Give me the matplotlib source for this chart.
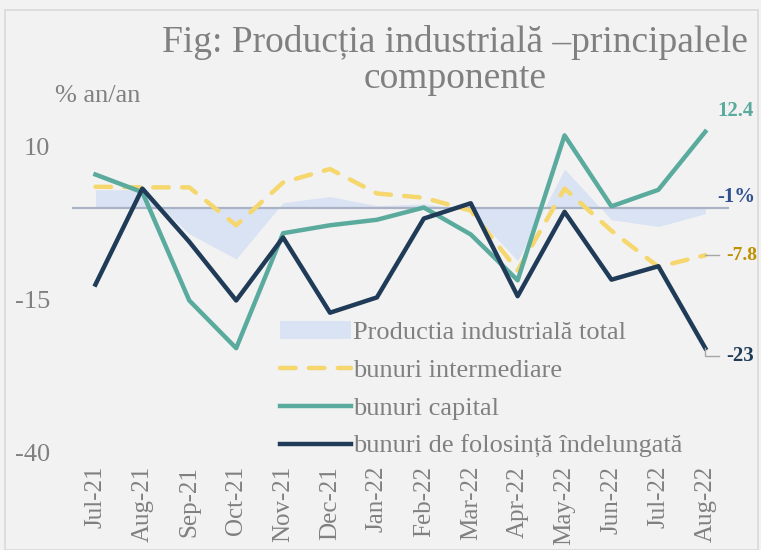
import matplotlib
matplotlib.use("Agg")
import matplotlib.pyplot as plt
import numpy as np

months = ["Jul-21", "Aug-21", "Sep-21", "Oct-21", "Nov-21", "Dec-21", "Jan-22",
          "Feb-22", "Mar-22", "Apr-22", "May-22", "Jun-22", "Jul-22", "Aug-22"]
total = [2.9, 2.9, -4.3, -8.4, 0.8, 1.8, 0.3, 0.6, -0.5, -8.7, 6.3, -2.0, -3.1, -1.0]
intermediare = [3.4, 3.3, 3.3, -2.9, 4.1, 6.3, 2.3, 1.6, -0.5, -10.3, 3.1, -3.8, -9.7, -7.8]
capital = [5.4, 2.5, -15.2, -23.0, -4.2, -2.9, -2.0, 0.0, -4.4, -11.9, 11.8, 0.2, 2.9, 12.4]
folosinta = [-12.6, 3.1, -5.6, -15.2, -4.9, -17.2, -14.7, -1.8, 0.7, -14.5, -0.7, -11.8, -9.6, -23.0]

BG = "#f2f2f2"
GRAY = "#808080"
C_AREA = "#dae3f3"
C_YEL = "#f5d76e"
C_TEAL = "#5aab9e"
C_NAVY = "#1f3b57"

plt.rcParams["font.family"] = ["Liberation Serif", "DejaVu Serif"]
plt.rcParams["axes.unicode_minus"] = False

fig = plt.figure(figsize=(7.61, 5.5), dpi=100, facecolor=BG)
# chart frame
fig.patches.append(plt.Rectangle((0.006, 0.0), 0.99, 0.982, transform=fig.transFigure,
                                 fill=False, edgecolor="#d9d9d9", lw=1.2))
ax = fig.add_axes([0.0946, 0.178, 0.863, 0.667], facecolor=BG)
x = np.arange(len(months))

ax.fill_between(x, 0, total, color=C_AREA, lw=0, label="Productia industrială total")
ax.axhline(0, color="#aab3c5", lw=1.6, zorder=1)
ax.plot(x, intermediare, color=C_YEL, lw=3.2, ls=(0, (3.5, 3)), solid_capstyle="round",
        dash_capstyle="round", label="bunuri intermediare")
ax.plot(x, capital, color=C_TEAL, lw=3.2, label="bunuri capital")
ax.plot(x, folosinta, color=C_NAVY, lw=3.2, label="bunuri de folosință îndelungată")

ax.set_xlim(-0.5, len(months) - 0.5)
ax.set_ylim(-40, 20)
ax.set_yticks([10, -15, -40])
ax.set_xticks(x)
ax.set_xticklabels(months, rotation=90, fontsize=18, color=GRAY)
ax.tick_params(axis="y", labelsize=19, labelcolor=GRAY, length=0, pad=16)
ax.tick_params(axis="x", length=0, pad=10)
for s in ax.spines.values():
    s.set_visible(False)

fig.text(0.598, 0.89, "Fig: Producția industrială –principalele\ncomponente",
         ha="center", va="center", fontsize=27, color=GRAY, linespacing=1.05)
fig.text(0.072, 0.826, "% an/an", fontsize=19, color=GRAY, ha="left", va="center")

# end-of-series labels
last = len(months) - 1
ax.text(last + 0.25, capital[-1] + 3.4, f"{capital[-1]:.1f}", color=C_TEAL,
        fontsize=15, fontweight="bold", ha="left", va="center")
ax.text(last + 0.25, total[-1] + 2.7, f"{total[-1]:.0f}%", color="#2f4f8f",
        fontsize=15, fontweight="bold", ha="left", va="center")
ax.plot([last, last + 0.3], [intermediare[-1], intermediare[-1]], color="#a6a6a6", lw=1,
        clip_on=False)
ax.text(last + 0.45, intermediare[-1], f"{intermediare[-1]:.1f}", color="#bf9000",
        fontsize=14, fontweight="bold", ha="left", va="center")
ax.plot([last, last, last + 0.3], [folosinta[-1], folosinta[-1] - 1.3, folosinta[-1] - 1.3],
        color="#a6a6a6", lw=1, clip_on=False)
ax.text(last + 0.45, folosinta[-1] - 1.3, f"{folosinta[-1]:.0f}", color=C_NAVY,
        fontsize=15, fontweight="bold", ha="left", va="center")

leg = ax.legend(loc="lower left", bbox_to_anchor=(0.3, -0.045), frameon=False, fontsize=19,
                labelcolor=GRAY, handlelength=2.7, handletextpad=0.1, labelspacing=0.55,
                borderaxespad=0)

fig.savefig("out.png", dpi=100, facecolor=BG)
